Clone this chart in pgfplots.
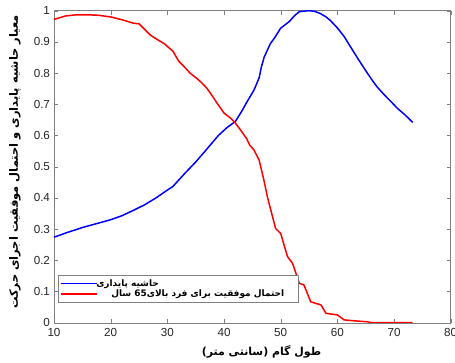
\documentclass[border=0pt]{standalone}
\usepackage{fontspec}
\usepackage{pgfplots}
\pgfplotsset{compat=1.18}
\setmainfont{Liberation Sans}
\newfontfamily\arabicfont[Script=Arabic]{DejaVu Sans}
\TeXXeTstate=1
\definecolor{axgray}{RGB}{38,38,38}
\definecolor{boxgray}{RGB}{128,128,128}
\begin{document}
\begin{tikzpicture}[x=1bp,y=1bp]
\begin{axis}[
  name=ax,
  scale only axis,
  width=396.7bp, height=312bp,
  xmin=10, xmax=80, ymin=0, ymax=1,
  xtick={10,20,...,80},
  ytick={0,0.1,...,1},
  yticklabels={0,0.1,0.2,0.3,0.4,0.5,0.6,0.7,0.8,0.9,1},
  tick align=inside,
  tick pos=both,
  axis line style={boxgray},
  tick style={boxgray},
  major tick length=4bp,
  /pgf/number format/assume math mode=true,
  tick label style={font=\fontsize{11.7}{13}\selectfont, text=axgray},
  xticklabel style={yshift=-2bp},
  yticklabel style={xshift=-0.5bp},
  xlabel={\arabicfont\bfseries\fontsize{11}{13}\selectfont\beginR طول گام (سانتی متر)\endR},
  ylabel={\arabicfont\bfseries\fontsize{11.5}{13}\selectfont\beginR معیار حاشیه پایداری و احتمال موفقیت اجرای حرکت\endR},
  xlabel style={at={(axis description cs:0.523,-0.095)}, anchor=center},
  ylabel style={at={(axis description cs:-0.0986,0.515)}, anchor=center},
  legend style={at={(0.009,0.066)}, anchor=south west, draw=boxgray,
    font=\fontsize{9}{11}\selectfont, row sep=-2bp, inner sep=2bp},
  legend cell align=left,
  legend image code/.code={\draw[#1, line width=1.5bp] (0bp,0bp) -- (36bp,0bp);},
]
\addplot[blue, line width=1.5bp] coordinates {
(10,0.274)(12,0.287)(15,0.305)(18,0.320)(20,0.330)(22,0.343)(24,0.360)(26,0.378)
(28,0.400)(30,0.425)(31,0.437)(33,0.477)(35,0.515)(37,0.557)(39,0.600)(40.5,0.625)
(42,0.645)(43,0.674)(44,0.706)(45.3,0.746)(46.2,0.785)(46.6,0.820)(47.1,0.852)(48.2,0.895)(49,0.915)
(50,0.944)(51.5,0.965)(52.5,0.985)(53.3,0.997)(55,1.0)(56,0.998)(57.1,0.990)(58,0.980)
(58.8,0.968)(60,0.945)(61.2,0.917)(62.4,0.882)(63.6,0.847)(65,0.808)(66,0.781)(67,0.756)
(68.3,0.730)(69.5,0.708)(70.6,0.687)(72,0.665)(73.3,0.642)
};
\addlegendentry{\hspace*{-3bp}{\arabicfont\bfseries\beginR حاشیه پایداری\endR}}
\addplot[red, line width=1.5bp] coordinates {
(10,0.972)(12,0.983)(14,0.987)(16,0.987)(18,0.985)(20,0.980)(22,0.971)(24,0.960)
(25,0.958)(26,0.940)(27,0.922)(28,0.910)(29.4,0.895)(31,0.870)(32,0.838)(33,0.820)
(34,0.800)(35.2,0.783)(36,0.770)(37,0.751)(38,0.725)(38.8,0.703)(40,0.672)(41.2,0.655)
(42,0.640)(42.9,0.618)(44,0.590)(44.5,0.570)(45.3,0.553)(46.2,0.521)(47,0.460)(47.7,0.400)
(49.1,0.302)(50,0.286)(51.2,0.212)(52.1,0.190)(53.3,0.126)(54.1,0.121)(55.3,0.067)(57.1,0.057)
(58,0.030)(60,0.025)(61.2,0.009)(63,0.006)(65.3,0.003)(66,0.0)(73.3,0.0)
};
\addlegendentry{\hspace*{12bp}{\arabicfont\bfseries\beginR احتمال موفقیت برای فرد بالای\beginL 65\endL{} سال\endR}\hspace*{10bp}}
\end{axis}
\pgfresetboundingbox
\path[use as bounding box] ([shift={(-54bp,-40.3bp)}]ax.south west) rectangle ([shift={(4.3bp,10.7bp)}]ax.north east);
\end{tikzpicture}
\end{document}
